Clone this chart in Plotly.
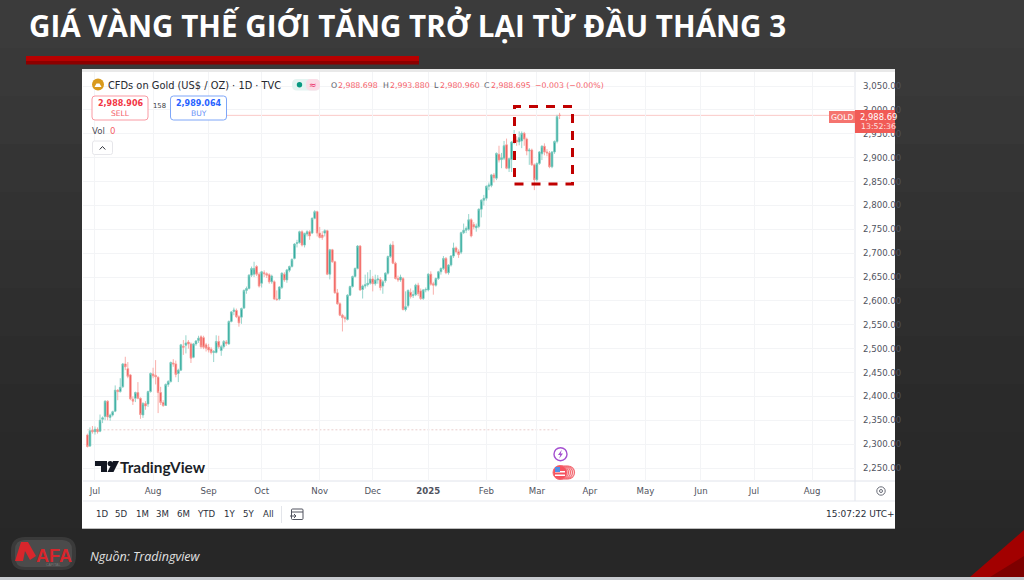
import pandas as pd
import plotly.graph_objects as go

FONT = "Open Sans"
UI_FONT = "DejaVu Sans"

title_text = "GIÁ VÀNG THẾ GIỚI TĂNG TRỞ LẠI TỪ ĐẦU THÁNG 3"
source_text = "Nguồn: Tradingview"

first_bar_date = "2024-06-26"

opens = [
    2319, 2296, 2329, 2326, 2331, 2327, 2352, 2358, 2390, 2356,
    2361, 2369, 2413, 2410, 2420, 2468, 2458, 2445, 2394, 2396,
    2408, 2396, 2361, 2385, 2384, 2410, 2447, 2444, 2440, 2408,
    2387, 2381, 2425, 2431, 2470, 2468, 2448, 2455, 2505, 2507,
    2514, 2510, 2482, 2510, 2517, 2525, 2523, 2508, 2503, 2499,
    2492, 2492, 2515, 2496, 2504, 2514, 2510, 2557, 2578, 2580,
    2567, 2566, 2585, 2622, 2626, 2654, 2656, 2672, 2656, 2637,
    2659, 2657, 2655, 2640, 2640, 2604, 2604, 2628, 2656, 2644,
    2664, 2672, 2689, 2720, 2722, 2745, 2717, 2740, 2745, 2742,
    2773, 2787, 2742, 2738, 2742, 2747, 2656, 2707, 2682, 2617,
    2594, 2570, 2565, 2561, 2612, 2630, 2651, 2668, 2715, 2624,
    2631, 2634, 2637, 2646, 2636, 2644, 2645, 2631, 2642, 2658,
    2693, 2717, 2679, 2647, 2644, 2647, 2582, 2590, 2618, 2611,
    2613, 2633, 2621, 2605, 2623, 2623, 2656, 2636, 2633, 2647,
    2661, 2668, 2689, 2659, 2675, 2694, 2711, 2703, 2702, 2743,
    2748, 2750, 2770, 2760, 2753, 2756, 2792, 2811, 2815, 2840,
    2842, 2864, 2857, 2907, 2896, 2899, 2927, 2878, 2896, 2933,
    2937, 2933, 2935, 2951, 2939, 2914, 2916, 2885, 2854, 2888,
    2908, 2924, 2912, 2910, 2881, 2912, 2934, 2988.698,
]
highs = [
    2322, 2335, 2338, 2337, 2335, 2362, 2358, 2392, 2392, 2364,
    2370, 2423, 2415, 2438, 2470, 2483, 2472, 2447, 2400, 2410,
    2430, 2398, 2388, 2390, 2412, 2450, 2460, 2476, 2442, 2420,
    2392, 2427, 2434, 2473, 2478, 2475, 2458, 2510, 2518, 2528,
    2518, 2513, 2512, 2518, 2527, 2528, 2527, 2512, 2510, 2503,
    2497, 2528, 2527, 2508, 2518, 2518, 2559, 2579, 2586, 2584,
    2570, 2586, 2624, 2630, 2656, 2672, 2682, 2675, 2660, 2663,
    2664, 2660, 2658, 2655, 2643, 2622, 2631, 2660, 2660, 2667,
    2674, 2689, 2721, 2728, 2747, 2748, 2743, 2748, 2748, 2775,
    2790, 2789, 2755, 2746, 2750, 2749, 2709, 2709, 2684, 2625,
    2597, 2573, 2569, 2614, 2632, 2653, 2670, 2717, 2717, 2634,
    2655, 2660, 2665, 2652, 2655, 2654, 2650, 2644, 2660, 2695,
    2720, 2725, 2682, 2653, 2655, 2650, 2620, 2624, 2626, 2622,
    2636, 2638, 2626, 2625, 2628, 2658, 2662, 2640, 2649, 2663,
    2670, 2694, 2692, 2677, 2696, 2722, 2714, 2708, 2745, 2762,
    2756, 2782, 2773, 2765, 2762, 2794, 2813, 2822, 2842, 2848,
    2866, 2868, 2911, 2925, 2910, 2935, 2940, 2900, 2935, 2958,
    2945, 2955, 2955, 2954, 2942, 2920, 2919, 2888, 2890, 2914,
    2926, 2930, 2918, 2914, 2914, 2936, 2990, 2993.880,
]
lows = [
    2293, 2294, 2322, 2320, 2322, 2325, 2344, 2350, 2350, 2349,
    2358, 2367, 2392, 2408, 2418, 2455, 2438, 2392, 2382, 2388,
    2394, 2353, 2355, 2372, 2378, 2408, 2438, 2425, 2365, 2382,
    2378, 2380, 2420, 2429, 2462, 2440, 2430, 2453, 2487, 2490,
    2500, 2470, 2480, 2506, 2512, 2500, 2499, 2494, 2492, 2488,
    2472, 2490, 2500, 2485, 2500, 2506, 2508, 2555, 2570, 2564,
    2546, 2552, 2583, 2615, 2624, 2650, 2650, 2652, 2628, 2628,
    2650, 2648, 2636, 2636, 2602, 2600, 2601, 2625, 2640, 2638,
    2660, 2670, 2687, 2712, 2720, 2714, 2712, 2735, 2728, 2740,
    2771, 2735, 2731, 2728, 2735, 2654, 2645, 2680, 2615, 2592,
    2568, 2536, 2555, 2559, 2610, 2628, 2649, 2666, 2621, 2605,
    2626, 2630, 2634, 2620, 2632, 2636, 2622, 2615, 2638, 2655,
    2690, 2677, 2645, 2640, 2640, 2580, 2578, 2586, 2605, 2606,
    2610, 2610, 2602, 2602, 2618, 2620, 2632, 2613, 2630, 2644,
    2655, 2665, 2656, 2655, 2672, 2690, 2700, 2690, 2698, 2740,
    2742, 2747, 2733, 2750, 2745, 2752, 2775, 2800, 2810, 2832,
    2838, 2848, 2853, 2890, 2878, 2895, 2876, 2870, 2870, 2928,
    2925, 2926, 2920, 2925, 2905, 2885, 2883, 2832, 2850, 2885,
    2895, 2905, 2903, 2878, 2878, 2908, 2930, 2980.960,
]
closes = [
    2295, 2328, 2326, 2331, 2326, 2350, 2355, 2390, 2357, 2361,
    2368, 2413, 2410, 2419, 2468, 2462, 2442, 2395, 2390, 2408,
    2396, 2362, 2385, 2380, 2410, 2448, 2443, 2441, 2408, 2387,
    2381, 2425, 2431, 2471, 2468, 2446, 2455, 2508, 2503, 2512,
    2510, 2480, 2510, 2516, 2522, 2504, 2503, 2501, 2497, 2492,
    2494, 2515, 2504, 2504, 2515, 2511, 2557, 2577, 2581, 2567,
    2554, 2584, 2622, 2626, 2654, 2668, 2668, 2656, 2631, 2661,
    2657, 2654, 2640, 2652, 2604, 2603, 2629, 2658, 2644, 2665,
    2672, 2687, 2719, 2722, 2745, 2717, 2741, 2745, 2736, 2773,
    2787, 2742, 2733, 2733, 2747, 2656, 2707, 2682, 2617, 2594,
    2570, 2565, 2563, 2612, 2630, 2651, 2668, 2715, 2623, 2631,
    2634, 2637, 2646, 2636, 2644, 2646, 2628, 2640, 2658, 2693,
    2717, 2679, 2647, 2644, 2650, 2582, 2588, 2622, 2609, 2613,
    2633, 2615, 2605, 2623, 2624, 2656, 2635, 2633, 2647, 2661,
    2668, 2689, 2659, 2675, 2694, 2711, 2703, 2697, 2743, 2748,
    2752, 2770, 2736, 2755, 2757, 2792, 2811, 2815, 2840, 2843,
    2864, 2858, 2909, 2895, 2900, 2925, 2878, 2898, 2933, 2937,
    2933, 2942, 2951, 2939, 2914, 2916, 2885, 2854, 2888, 2912,
    2924, 2912, 2910, 2881, 2912, 2934, 2986, 2988.695,
]

price_ticks = [2250, 2300, 2350, 2400, 2450, 2500, 2550, 2600, 2650, 2700,
               2750, 2800, 2850, 2900, 2950, 3000, 3050]
month_dates = ["2024-07-01", "2024-08-01", "2024-09-02", "2024-10-01", "2024-11-01",
               "2024-12-02", "2025-01-01", "2025-02-03", "2025-03-03", "2025-04-01",
               "2025-05-01", "2025-06-02", "2025-07-01", "2025-08-01"]
month_labels = ["Jul", "Aug", "Sep", "Oct", "Nov", "Dec", "<b>2025</b>", "Feb", "Mar",
                "Apr", "May", "Jun", "Jul", "Aug"]
range_buttons = ["1D", "5D", "1M", "3M", "6M", "YTD", "1Y", "5Y", "All"]
range_button_x = [102, 121, 142, 162, 183, 206, 229, 248, 268]
last_price = 2988.695
support_price = 2330

W, H = 1024, 580


def X(x):
    return x / W


def Y(y):
    return 1 - y / H


shapes = []
annotations = []


def rect(x0, y0, x1, y1, fill, line=None, lw=0, layer="below", dash=None):
    shapes.append(dict(type="rect", xref="paper", yref="paper", x0=X(x0), x1=X(x1), y0=Y(y0), y1=Y(y1),
                       fillcolor=fill, layer=layer,
                       line=dict(color=line or "rgba(0,0,0,0)", width=lw, dash=dash or "solid")))


def circle(cx, cy, r, fill, line=None, lw=0, layer="above"):
    shapes.append(dict(type="circle", xref="paper", yref="paper", x0=X(cx - r), x1=X(cx + r), y0=Y(cy + r), y1=Y(cy - r),
                       fillcolor=fill, layer=layer, line=dict(color=line or "rgba(0,0,0,0)", width=lw)))


def poly(points, fill, layer="above", line=None, lw=0, close=True):
    d = "M" + " L".join(f"{X(a):.5f},{Y(b):.5f}" for a, b in points) + (" Z" if close else "")
    shapes.append(dict(type="path", xref="paper", yref="paper", path=d, fillcolor=fill, layer=layer,
                       line=dict(color=line or "rgba(0,0,0,0)", width=lw)))


def hline(x0, x1, y, color, lw=1, layer="below"):
    shapes.append(dict(type="line", xref="paper", yref="paper", x0=X(x0), x1=X(x1), y0=Y(y), y1=Y(y),
                       layer=layer, line=dict(color=color, width=lw)))


def vline(x, y0, y1, color, lw=1, layer="below"):
    shapes.append(dict(type="line", xref="paper", yref="paper", x0=X(x), x1=X(x), y0=Y(y0), y1=Y(y1),
                       layer=layer, line=dict(color=color, width=lw)))


def rrect(x0, y0, x1, y1, r, fill, line, lw=1, layer="above"):
    a, b, c, d = X(x0), Y(y0), X(x1), Y(y1)
    rx, ry = r / W, r / H
    path = (f"M{a + rx},{b} L{c - rx},{b} Q{c},{b} {c},{b - ry} L{c},{d + ry} Q{c},{d} {c - rx},{d} "
            f"L{a + rx},{d} Q{a},{d} {a},{d + ry} L{a},{b - ry} Q{a},{b} {a + rx},{b} Z")
    shapes.append(dict(type="path", xref="paper", yref="paper", path=path, fillcolor=fill, layer=layer,
                       line=dict(color=line, width=lw)))


def text(x, y, s, size, color, anchor="left", family=UI_FONT):
    annotations.append(dict(x=X(x), y=Y(y), xref="paper", yref="paper", text=s, showarrow=False,
                            xanchor=anchor, yanchor="middle", xshift=0, yshift=0, borderpad=0, borderwidth=0,
                            font=dict(size=size, color=color, family=family)))


# slide background: soft vertical shading
band_colors = ["#3b3b3b", "#393939", "#373737", "#343434", "#323232", "#303030", "#2e2e2e", "#2c2c2c",
               "#2a2a2a", "#292929", "#282828", "#272727"]
for i, c in enumerate(band_colors):
    rect(0, i * 48, W, (i + 1) * 48 + 1, c)
rect(0, 577, W, H, "#c8cbd0")

# title rule
rect(26, 56, 419, 61, "#b80000")
rect(26, 61, 419, 64.5, "#8c0000")

# chart panel
rect(82, 69, 895, 528.5, "#ffffff", "#d8d8d8", 0)
rect(82, 69, 895, 72, "#e9e9e9")
hline(82, 895, 528.5, "#bdbdbd", 1)
vline(855, 72, 501, "#e0e3eb")
hline(83, 895, 481, "#e0e3eb")
hline(83, 895, 501, "#e7e9ef")
vline(281.5, 506, 523, "#e3e5ea")

# footer
poly([(970, 577), (1024, 530), (1024, 577)], "#a20000", layer="below")
poly([(990, 577), (1024, 556), (1024, 577)], "#7d0000", layer="below")
rrect(11, 537, 76, 570, 14, "rgba(255,255,255,0.09)", "rgba(0,0,0,0)", 0, layer="below")
rrect(15, 540, 72, 567, 10, "rgba(255,255,255,0.09)", "rgba(0,0,0,0)", 0, layer="below")
poly([(15, 561), (21, 542), (28, 542), (36, 556), (30, 560), (25, 551), (23, 561)], "#d8262c", layer="below")
text(36, 556, "<b>AFA</b>", 18, "#d8262c", family="Liberation Sans")
text(46, 564.5, "CAPITAL", 3.5, "#777777", family="Liberation Sans")
text(90, 556, f"<i>{source_text}</i>", 12.5, "#e2e2e2", family=FONT)
text(29, 26, f"<b>{title_text}</b>", 29.6, "#ffffff", family=FONT)

# toolbar and legend
circle(98, 84.5, 6, "#d99a1c")
poly([(94.5, 87), (96.5, 83.5), (99.5, 83.5), (101.5, 87)], "#ffffff")
text(108, 85, "CFDs on Gold (US$ / OZ) · 1D · TVC", 9.85, "#26282f")
rrect(292, 79, 320, 90.5, 5, "#e3f4f1", "rgba(0,0,0,0)", 0)
rrect(306, 79, 320, 90.5, 5, "#fbdce6", "rgba(0,0,0,0)", 0)
circle(299.5, 84.7, 2.7, "#089981")
text(313, 84.5, "≈", 9, "#e91e63", anchor="center")
for lx, vx, lbl, val in [(331, 338, "O", "2,988.698"), (382.5, 390, "H", "2,993.880"),
                         (433.5, 440, "L", "2,980.960"), (484, 491, "C", "2,988.695")]:
    text(lx, 85, lbl, 7.8, "#5d606b")
    text(vx, 85, val, 7.8, "#f5616a")
text(535, 85, "−0.003 (−0.00%)", 7.8, "#f5616a")

rrect(92, 96, 148, 120, 3, "#ffffff", "#f99aa3", 1)
text(120, 103.5, "<b>2,988.906</b>", 8.0, "#f23645", anchor="center")
text(120, 113.5, "SELL", 7.6, "#f4606a", anchor="center")
text(159, 106, "158", 6.8, "#3a3d46", anchor="center")
rrect(170.5, 96, 226.5, 120, 3, "#ffffff", "#7ea6f8", 1)
text(198.5, 103.5, "<b>2,989.064</b>", 8.0, "#2962ff", anchor="center")
text(198.5, 113.5, "BUY", 7.6, "#6690f7", anchor="center")
text(92, 130.5, "Vol", 8.6, "#4a4d57")
text(110, 130.5, "0", 8.6, "#f5616a", anchor="left")
rrect(92.5, 141, 112.5, 154.5, 2, "#ffffff", "#e6e6ea", 1)
poly([(99.7, 149.5), (102.5, 146.5), (105.3, 149.5)], "rgba(0,0,0,0)", line="#30333b", lw=1, close=False)

# price tags
rect(829, 111, 855, 123, "#f5746f", layer="above")
text(842, 117, "GOLD", 7.8, "#ffffff", anchor="center")
rect(855, 110, 895, 133, "#f15b56", layer="above")
text(860, 116.5, "2,988.69", 8.4, "#ffffff")
text(860.5, 126.5, "13:52:36", 7.8, "#fde3e2")

# highlighted zone
shapes.append(dict(type="rect", xref="paper", yref="paper", x0=X(514.5), x1=X(572.5), y0=Y(184), y1=Y(106.5),
                   layer="above", fillcolor="rgba(0,0,0,0)", line=dict(color="#c00000", width=3, dash="9px,8px")))

# TradingView mark
poly([(95, 461), (107, 461), (107, 472), (101, 472), (101, 466), (95, 466)], "#131722")
circle(110.2, 463.6, 2.6, "#131722")
poly([(113, 461), (119, 461), (113.5, 472), (107.5, 472)], "#131722")
text(120, 466.5, "<b>TradingView</b>", 15.4, "#1c1f28", family="Lato")

# events
for cx in [568, 566, 564, 562]:
    circle(cx, 472.5, 6.5, "#fde7e8", "#f36a72", 1.2)
circle(560, 472.5, 7, "#f6525f", "#f36a72", 1)
rect(555, 471, 565, 472.5, "#ffffff", layer="above")
rect(555, 474.5, 565, 476, "#ffffff", layer="above")
rect(555, 467, 560, 472, "#4f8fe6", layer="above")
circle(560.5, 454.2, 6.5, "#ffffff", "#a44fd0", 1.4)
poly([(561.8, 449.8), (558, 455), (560.3, 455), (559.2, 458.6), (563, 453.4), (560.7, 453.4)], "#a44fd0")

# bottom bar
for lbl, bx in zip(range_buttons, range_button_x):
    text(bx, 514, lbl, 8.6, "#2a2e39", anchor="center")
rrect(291.5, 509, 303, 519.5, 1, "rgba(0,0,0,0)", "#50535e", 1)
hline(291.5, 303, 512, "#50535e", 1, layer="above")
poly([(290, 516), (296, 516), (294, 514), (296, 516), (294, 518)], "rgba(0,0,0,0)", line="#50535e", lw=1, close=False)
text(895, 514, "15:07:22 UTC+", 9, "#2a2e39", anchor="right")
circle(881, 491, 4.2, "#ffffff", "#6a6d78", 1)
circle(881, 491, 1.5, "#ffffff", "#6a6d78", 1)

# reference levels drawn against the chart's own axes
shapes.append(dict(type="line", xref="paper", yref="y", x0=X(226.5), x1=X(829), y0=last_price, y1=last_price,
                   layer="below", line=dict(color="#fbc9c7", width=1)))
shapes.append(dict(type="line", xref="x", yref="y", x0=first_bar_date, x1="2025-03-14", y0=support_price, y1=support_price,
                   layer="below", line=dict(color="#e9cdcc", width=1, dash="2px,2px")))

dates = pd.bdate_range(first_bar_date, periods=len(closes))

fig = go.Figure(go.Candlestick(
    x=dates, open=opens, high=highs, low=lows, close=closes,
    whiskerwidth=0,
    increasing=dict(line=dict(color="#7ccabf", width=0.8), fillcolor="#26a69a"),
    decreasing=dict(line=dict(color="#f79a96", width=0.8), fillcolor="#ef5350"),
    showlegend=False, hoverinfo="skip",
))

fig.update_layout(
    width=W, height=H, autosize=False,
    margin=dict(l=0, r=0, t=0, b=0, pad=0),
    paper_bgcolor="#2a2a2a", plot_bgcolor="rgba(0,0,0,0)",
    showlegend=False, boxgap=0.02,
    font=dict(family=UI_FONT, size=9, color="#50535e"),
    shapes=shapes, annotations=annotations,
    xaxis=dict(
        domain=[X(83), X(855)], anchor="y", type="date",
        range=["2024-06-24 06:00", "2025-08-26"],
        rangebreaks=[dict(bounds=["sat", "mon"])],
        rangeslider=dict(visible=False),
        tickmode="array", tickvals=month_dates, ticktext=month_labels,
        ticks="", ticklabelstandoff=3, tickangle=0,
        showgrid=True, gridcolor="#f3f4f6", gridwidth=1, zeroline=False, showline=False,
        tickfont=dict(size=8.6, color="#50535e", family=UI_FONT),
    ),
    yaxis=dict(
        domain=[Y(481), Y(72)], anchor="x", side="right",
        range=[2250 - (481 - 468) * 50 / 23.87, 2250 + (468 - 72) * 50 / 23.87],
        tickmode="array", tickvals=price_ticks, ticktext=[f"{v:,.2f}" for v in price_ticks],
        ticks="", ticklabelstandoff=7,
        showgrid=True, gridcolor="#f3f4f6", gridwidth=1, zeroline=False, showline=False,
        tickfont=dict(size=8.6, color="#50535e", family=UI_FONT),
    ),
)

fig.write_html("out.html", config=dict(displayModeBar=False, responsive=False),
               post_script="document.body.style.margin='0';document.body.style.background='#2a2a2a';")
